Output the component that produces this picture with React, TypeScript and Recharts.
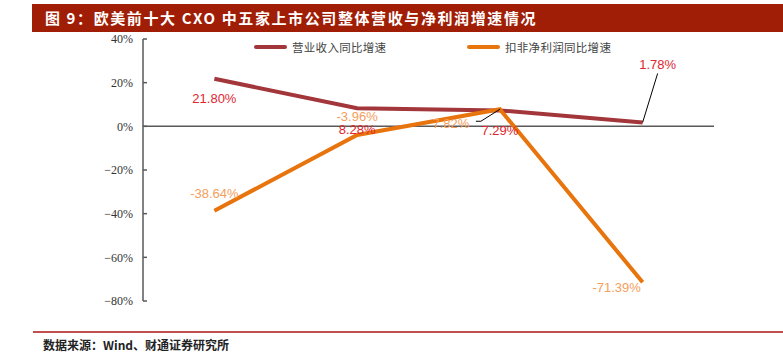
import { LabelList, Line, LineChart, ReferenceLine, XAxis, YAxis } from 'recharts'

// chart values
const categories = ['2018A', '2019H1', '2019A', '2020H1']
const revenueGrowth = [21.8, 8.28, 7.29, 1.78]
const profitGrowth = [-38.64, -3.96, 7.82, -71.39]
const yTicks = [40, 20, 0, -20, -40, -60, -80]
const revenueName = '营业收入同比增速'
const profitName = '扣非净利润同比增速'
const titleText = '图 9：欧美前十大 CXO 中五家上市公司整体营收与净利润增速情况'
const sourceText = '数据来源：Wind、财通证券研究所'

const data = categories.map((name, i) => ({
  name,
  revenue: revenueGrowth[i],
  profit: profitGrowth[i]
}))

const WIDTH = 783
const HEIGHT = 361
const MARGIN = { top: 39, right: 69, bottom: 60, left: 83 }
const Y_AXIS_W = 60
const PLOT_W = WIDTH - MARGIN.left - MARGIN.right - Y_AXIS_W
const PLOT_H = HEIGHT - MARGIN.top - MARGIN.bottom
const Y_MAX = 40
const Y_MIN = -80
const ZERO_Y = MARGIN.top + (PLOT_H * Y_MAX) / (Y_MAX - Y_MIN)
const BAND = PLOT_W / categories.length

const REVENUE_COLOR = '#A3363A'
const PROFIT_COLOR = '#E8740E'
const REVENUE_LABEL = '#E0262E'
const PROFIT_LABEL = '#F59E5C'
const AXIS_COLOR = '#595959'

// label placement relative to each point
const revenueShift = [
  [0, 20],
  [0, 21],
  [0, 20],
  [15, -58]
]
const profitShift = [
  [0, -17],
  [0, -18],
  [-49, 14],
  [-26, 5]
]

const fmt = (v: number) => v.toFixed(2) + '%'

const makeLabel =
  (shift: number[][], color: string, series: 'revenue' | 'profit') =>
  (props: any) => {
    const { x, y, value, index } = props
    const [dx, dy] = shift[index]
    let leader = null
    if (series === 'revenue' && index === 3) {
      leader = (
        <line x1={x} y1={y} x2={x + 15} y2={y - 49} stroke="#000" strokeWidth={1} />
      )
    }
    if (series === 'profit' && index === 2) {
      leader = (
        <polyline
          points={`${x - 24},${y + 12} ${x - 19},${y + 12} ${x},${y}`}
          fill="none"
          stroke="#000"
          strokeWidth={1}
        />
      )
    }
    return (
      <g>
        {leader}
        <text
          x={x + dx}
          y={y + dy}
          textAnchor="middle"
          dominantBaseline="central"
          fill={color}
          fontSize={13}
          fontFamily="Liberation Sans, Arial, sans-serif"
        >
          {fmt(value)}
        </text>
      </g>
    )
  }

const CategoryTick = (props: any) => {
  const { x, payload } = props
  return (
    <g>
      <line
        x1={x + BAND / 2}
        x2={x + BAND / 2}
        y1={ZERO_Y}
        y2={ZERO_Y - 4}
        stroke={AXIS_COLOR}
        strokeWidth={1.5}
      />
      <text
        x={x}
        y={ZERO_Y + 14}
        textAnchor="middle"
        dominantBaseline="central"
        fill="#333"
        fontSize={12}
        fontFamily="Liberation Serif, serif"
      >
        {payload.value}
      </text>
    </g>
  )
}

const LegendItem = ({ left, color, text }: { left: number; color: string; text: string }) => (
  <>
    <div
      style={{
        position: 'absolute',
        left,
        top: 45,
        width: 33,
        height: 4,
        borderRadius: 2,
        background: color
      }}
    />
    <div
      style={{
        position: 'absolute',
        left: left + 38,
        top: 38,
        fontSize: 11.5,
        lineHeight: '18px',
        letterSpacing: 0.3,
        color: '#444',
        fontFamily: 'Noto Sans CJK SC, sans-serif',
        whiteSpace: 'nowrap'
      }}
    >
      {text}
    </div>
  </>
)

export default function App() {
  return (
    <div
      style={{
        position: 'absolute',
        left: 0,
        top: 0,
        width: WIDTH,
        height: HEIGHT,
        background: '#fff',
        overflow: 'hidden'
      }}
    >
      <div
        style={{
          position: 'absolute',
          left: 32,
          top: 4,
          width: WIDTH - 32,
          height: 28,
          background: '#A11E06',
          color: '#fff',
          fontWeight: 700,
          fontSize: 15,
          lineHeight: '28px',
          letterSpacing: 1.6,
          paddingLeft: 13,
          boxSizing: 'border-box',
          fontFamily: 'Noto Sans CJK SC, sans-serif',
          whiteSpace: 'nowrap'
        }}
      >
        {titleText}
      </div>
      <LineChart width={WIDTH} height={HEIGHT} data={data} margin={MARGIN}>
        <XAxis
          dataKey="name"
          scale="band"
          height={0}
          axisLine={false}
          tickLine={false}
          interval={0}
          tick={<CategoryTick />}
        />
        <YAxis
          width={Y_AXIS_W}
          domain={[Y_MIN, Y_MAX]}
          ticks={yTicks}
          interval={0}
          allowDataOverflow
          tickFormatter={(v: number) => `${v < 0 ? '−' : ''}${Math.abs(v)}%`}
          axisLine={{ stroke: AXIS_COLOR, strokeWidth: 1.5 }}
          tickLine={{ stroke: AXIS_COLOR, strokeWidth: 1.5 }}
          tickSize={-4}
          tickMargin={14}
          tick={{ fill: '#333', fontSize: 12, fontFamily: 'Liberation Serif, serif' }}
        />
        <ReferenceLine y={0} stroke={AXIS_COLOR} strokeWidth={1.5} />
        <Line
          dataKey="revenue"
          name={revenueName}
          stroke={REVENUE_COLOR}
          strokeWidth={4}
          dot={false}
          isAnimationActive={false}
        >
          <LabelList dataKey="revenue" content={makeLabel(revenueShift, REVENUE_LABEL, 'revenue')} />
        </Line>
        <Line
          dataKey="profit"
          name={profitName}
          stroke={PROFIT_COLOR}
          strokeWidth={4}
          dot={false}
          isAnimationActive={false}
        >
          <LabelList dataKey="profit" content={makeLabel(profitShift, PROFIT_LABEL, 'profit')} />
        </Line>
      </LineChart>
      <LegendItem left={254} color={REVENUE_COLOR} text={revenueName} />
      <LegendItem left={467} color={PROFIT_COLOR} text={profitName} />
      <div
        style={{
          position: 'absolute',
          left: 33,
          top: 331,
          width: WIDTH - 33,
          height: 2,
          background: '#C0504D'
        }}
      />
      <div
        style={{
          position: 'absolute',
          left: 43,
          top: 337,
          fontSize: 12,
          lineHeight: '16px',
          fontWeight: 700,
          color: '#222',
          fontFamily: 'Noto Sans CJK SC, sans-serif',
          whiteSpace: 'nowrap'
        }}
      >
        {sourceText}
      </div>
    </div>
  )
}
